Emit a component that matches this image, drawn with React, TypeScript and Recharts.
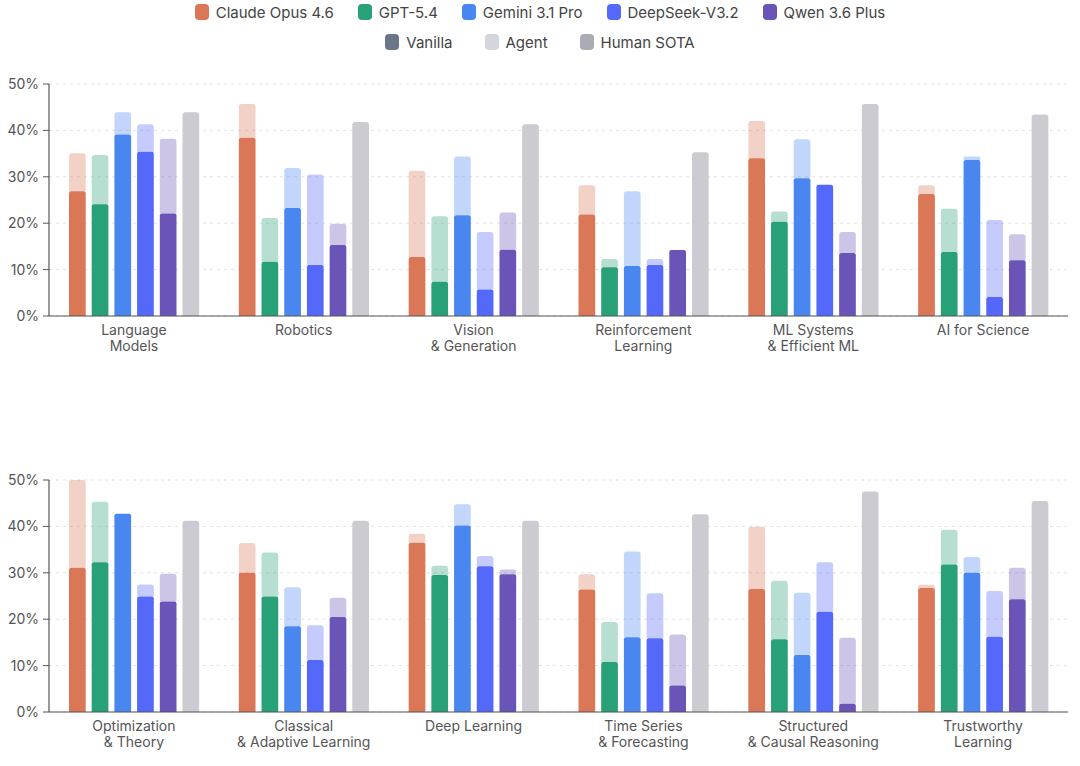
import { BarChart, Bar, XAxis, YAxis, CartesianGrid } from 'recharts';

const categories = [
  'Language\nModels',
  'Robotics',
  'Vision\n& Generation',
  'Reinforcement\nLearning',
  'ML Systems\n& Efficient ML',
  'AI for Science',
  'Optimization\n& Theory',
  'Classical\n& Adaptive Learning',
  'Deep Learning',
  'Time Series\n& Forecasting',
  'Structured\n& Causal Reasoning',
  'Trustworthy\nLearning',
];

// vanilla / agent scores (%) per model, same order as categories
const claudeVanilla = [26.9, 38.4, 12.7, 21.9, 34.0, 26.3, 31.1, 30.0, 36.5, 26.4, 26.5, 26.7];
const claudeAgent = [35.1, 45.7, 31.3, 28.2, 42.0, 28.2, 50.0, 36.4, 38.4, 29.7, 39.9, 27.4];
const gptVanilla = [24.1, 11.7, 7.4, 10.5, 20.3, 13.8, 32.3, 24.9, 29.5, 10.8, 15.7, 31.8];
const gptAgent = [34.7, 21.1, 21.5, 12.3, 22.5, 23.1, 45.3, 34.4, 31.5, 19.4, 28.3, 39.3];
const geminiVanilla = [39.1, 23.3, 21.7, 10.8, 29.7, 33.6, 42.7, 18.5, 40.2, 16.1, 12.3, 30.0];
const geminiAgent = [43.9, 31.9, 34.4, 26.9, 38.1, 34.4, 42.7, 26.9, 44.8, 34.6, 25.7, 33.4];
const deepseekVanilla = [35.4, 11.0, 5.7, 11.0, 28.3, 4.1, 24.9, 11.2, 31.4, 15.9, 21.6, 16.2];
const deepseekAgent = [41.3, 30.5, 18.1, 12.3, 28.3, 20.7, 27.5, 18.7, 33.6, 25.6, 32.3, 26.1];
const qwenVanilla = [22.1, 15.3, 14.3, 14.2, 13.6, 12.0, 23.8, 20.5, 29.7, 5.7, 1.8, 24.3];
const qwenAgent = [38.2, 19.9, 22.3, 14.2, 18.1, 17.6, 29.8, 24.6, 30.7, 16.7, 16.0, 31.1];
const humanSota = [43.9, 41.8, 41.3, 35.3, 45.7, 43.4, 41.2, 41.2, 41.2, 42.6, 47.5, 45.5];

const yTicks = [0, 10, 20, 30, 40, 50];

const models = [
  { key: 'claude', name: 'Claude Opus 4.6', color: '#D97757', vanilla: claudeVanilla, agent: claudeAgent },
  { key: 'gpt', name: 'GPT-5.4', color: '#28A078', vanilla: gptVanilla, agent: gptAgent },
  { key: 'gemini', name: 'Gemini 3.1 Pro', color: '#4A86EF', vanilla: geminiVanilla, agent: geminiAgent },
  { key: 'deepseek', name: 'DeepSeek-V3.2', color: '#5469F9', vanilla: deepseekVanilla, agent: deepseekAgent },
  { key: 'qwen', name: 'Qwen 3.6 Plus', color: '#6B54B8', vanilla: qwenVanilla, agent: qwenAgent },
];

const FONT = 'Inter, "Noto Sans", sans-serif';

// stacked rows: vanilla + extra part gained with the agent
const buildRows = (from: number, to: number) =>
  categories.slice(from, to).map((name, j) => {
    const i = from + j;
    const row: Record<string, number | string> = { name, human: humanSota[i] };
    models.forEach((m) => {
      row[m.key + 'V'] = m.vanilla[i];
      row[m.key + 'A'] = Math.max(0, m.agent[i] - m.vanilla[i]);
    });
    return row;
  });

const topRows = buildRows(0, 6);
const bottomRows = buildRows(6, 12);

const CategoryTick = (props: any) => {
  const { x, y, payload } = props;
  const lines = String(payload.value).split('\n');
  return (
    <text x={x} y={y} textAnchor="middle" fill="#555" fontSize={14} fontFamily={FONT}>
      {lines.map((l, i) => (
        <tspan key={i} x={x} dy={i === 0 ? 19 : 16}>
          {l}
        </tspan>
      ))}
    </text>
  );
};

function Panel({ data, top }: { data: any[]; top: number }) {
  return (
    <div style={{ position: 'absolute', left: 0, top }}>
      <BarChart
        width={1080}
        height={290}
        data={data}
        margin={{ top: 14, right: 12, bottom: 0, left: 0 }}
        barSize={16.7}
        barGap={6}
      >
        <CartesianGrid vertical={false} stroke="#E2E2E2" strokeDasharray="3 4" />
        <XAxis
          dataKey="name"
          interval={0}
          height={44}
          tickLine={false}
          tickSize={0}
          tickMargin={0}
          tick={<CategoryTick />}
          axisLine={{ stroke: '#555', strokeWidth: 1.2 }}
        />
        <YAxis
          domain={[0, 50]}
          ticks={yTicks}
          width={49}
          tickSize={6}
          tickMargin={4}
          tickFormatter={(v) => `${v}%`}
          tick={{ fill: '#555', fontSize: 14, fontFamily: FONT }}
          tickLine={{ stroke: '#555' }}
          axisLine={{ stroke: '#555', strokeWidth: 1.2 }}
        />
        {models.flatMap((m) => [
          <Bar
            key={m.key + 'V'}
            dataKey={m.key + 'V'}
            stackId={m.key}
            fill={m.color}
            radius={[2, 2, 0, 0]}
            isAnimationActive={false}
          />,
          <Bar
            key={m.key + 'A'}
            dataKey={m.key + 'A'}
            stackId={m.key}
            fill={m.color}
            fillOpacity={0.34}
            radius={[3, 3, 0, 0]}
            isAnimationActive={false}
          />,
        ])}
        <Bar dataKey="human" stackId="human" fill="#CBCBD1" radius={[3, 3, 0, 0]} isAnimationActive={false} />
      </BarChart>
    </div>
  );
}

const Swatch = ({ color }: { color: string }) => (
  <span style={{ display: 'inline-block', width: 14, height: 16, borderRadius: 4, background: color, marginRight: 7 }} />
);

const legendRow2 = [
  { name: 'Vanilla', color: '#6B7789' },
  { name: 'Agent', color: '#D3D6DD' },
  { name: 'Human SOTA', color: '#A9ACB4' },
];

export default function App() {
  const rowStyle: React.CSSProperties = {
    position: 'absolute',
    left: 0,
    width: 1080,
    display: 'flex',
    justifyContent: 'center',
    alignItems: 'center',
    fontFamily: FONT,
    fontSize: 15,
    color: '#444',
  };
  return (
    <div style={{ position: 'absolute', left: 0, top: 0, width: 1080, height: 766, background: '#fff', overflow: 'hidden' }}>
      <div style={{ ...rowStyle, top: 1, height: 22, gap: 24 }}>
        {models.map((m) => (
          <span key={m.key} style={{ display: 'flex', alignItems: 'center' }}>
            <Swatch color={m.color} />
            {m.name}
          </span>
        ))}
      </div>
      <div style={{ ...rowStyle, top: 31, height: 22, gap: 32 }}>
        {legendRow2.map((l) => (
          <span key={l.name} style={{ display: 'flex', alignItems: 'center' }}>
            <Swatch color={l.color} />
            {l.name}
          </span>
        ))}
      </div>
      <Panel data={topRows} top={70} />
      <Panel data={bottomRows} top={466} />
    </div>
  );
}
